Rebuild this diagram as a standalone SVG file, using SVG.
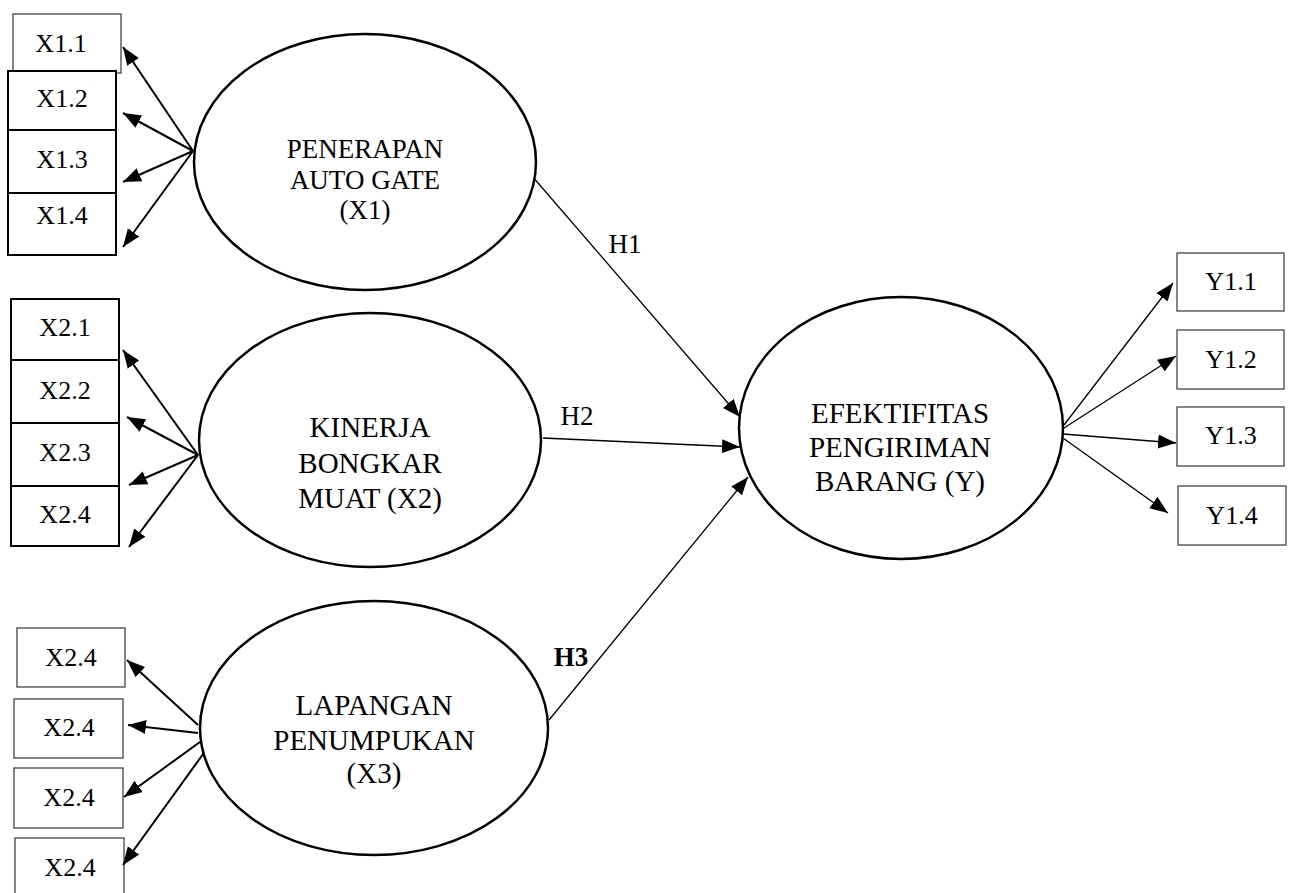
<svg xmlns="http://www.w3.org/2000/svg" width="1291" height="893" viewBox="0 0 1291 893">
<style>
text{font-family:"Liberation Serif","Times New Roman","DejaVu Serif",serif;font-size:26px;fill:#000;text-anchor:middle}
.m{font-size:27px}
.big{font-size:29px}
.lat{fill:#fff;stroke:#000;stroke-width:2.5}
.bx{fill:#fff;stroke:#000;stroke-width:2}
.bxg{fill:#fff;stroke:#444;stroke-width:1.3}
.c{stroke:#000;fill:none}
.t{stroke-width:2}
.n{stroke-width:1.3}
</style>
<defs>
<marker id="ah" markerUnits="userSpaceOnUse" markerWidth="20" markerHeight="16" viewBox="0 0 20 16" refX="18" refY="8" orient="auto">
<path d="M0,1 L18,8 L0,15 Z" fill="#000"/>
</marker>
</defs>
<rect width="1291" height="893" fill="#fff"/>

<g id="x1-indicators">
<rect class="bxg" x="13" y="14" width="108" height="59"/>
<text x="61" y="52">X1.1</text>
<rect class="bx" x="8" y="71" width="108" height="59"/>
<text x="62" y="107">X1.2</text>
<rect class="bx" x="8" y="130" width="108" height="63"/>
<text x="62" y="168">X1.3</text>
<rect class="bx" x="8" y="193" width="108" height="62"/>
<text x="62" y="224">X1.4</text>
</g>

<g id="x2-indicators">
<rect class="bx" x="11" y="299" width="108" height="61"/>
<text x="65" y="336">X2.1</text>
<rect class="bx" x="11" y="360" width="108" height="63"/>
<text x="65" y="399">X2.2</text>
<rect class="bx" x="11" y="423" width="108" height="63"/>
<text x="65" y="461">X2.3</text>
<rect class="bx" x="11" y="486" width="108" height="60"/>
<text x="65" y="523">X2.4</text>
</g>

<g id="x3-indicators">
<rect class="bxg" x="17" y="628" width="108" height="59"/>
<text x="71" y="666">X2.4</text>
<rect class="bxg" x="14" y="699" width="109" height="59"/>
<text x="69" y="736">X2.4</text>
<rect class="bxg" x="14" y="768" width="109" height="60"/>
<text x="69" y="806">X2.4</text>
<rect class="bxg" x="15" y="838" width="109" height="70"/>
<text x="70" y="876">X2.4</text>
</g>

<g id="y-indicators">
<rect class="bxg" x="1177" y="253" width="107" height="58"/>
<text x="1231" y="290">Y1.1</text>
<rect class="bxg" x="1177" y="330" width="107" height="59"/>
<text x="1231" y="368">Y1.2</text>
<rect class="bxg" x="1177" y="407" width="107" height="59"/>
<text x="1231" y="444">Y1.3</text>
<rect class="bxg" x="1178" y="486" width="108" height="59"/>
<text x="1232" y="524">Y1.4</text>
</g>

<g id="connectors">
<g class="c t">
<line x1="193" y1="151" x2="123" y2="47" marker-end="url(#ah)"/>
<line x1="193" y1="151" x2="123" y2="113" marker-end="url(#ah)"/>
<line x1="193" y1="151" x2="123" y2="182" marker-end="url(#ah)"/>
<line x1="193" y1="151" x2="123" y2="247" marker-end="url(#ah)"/>
<line x1="198" y1="455" x2="123" y2="350" marker-end="url(#ah)"/>
<line x1="198" y1="455" x2="127" y2="417" marker-end="url(#ah)"/>
<line x1="198" y1="455" x2="129" y2="485" marker-end="url(#ah)"/>
<line x1="198" y1="455" x2="129" y2="547" marker-end="url(#ah)"/>
<line x1="198" y1="725" x2="127" y2="660" marker-end="url(#ah)"/>
<line x1="198" y1="733" x2="128" y2="725" marker-end="url(#ah)"/>
<line x1="200" y1="742" x2="124" y2="797" marker-end="url(#ah)"/>
<line x1="206" y1="750" x2="123" y2="865" marker-end="url(#ah)"/>
</g>
<g class="c n">
<line x1="532" y1="176" x2="740" y2="417" marker-end="url(#ah)"/>
<line x1="543" y1="438" x2="740" y2="447" marker-end="url(#ah)"/>
<line x1="549" y1="720" x2="748" y2="477" marker-end="url(#ah)"/>
<line x1="1064" y1="425" x2="1173" y2="283" marker-end="url(#ah)"/>
<line x1="1064" y1="428" x2="1176" y2="356" marker-end="url(#ah)"/>
<line x1="1063" y1="434" x2="1176" y2="443" marker-end="url(#ah)"/>
<line x1="1063" y1="438" x2="1168" y2="513" marker-end="url(#ah)"/>
</g>
<text class="m" x="625" y="253">H1</text>
<text class="m" x="577" y="425">H2</text>
<text class="m" x="571" y="666" font-weight="bold">H3</text>
</g>

<g id="x1">
<ellipse class="lat" cx="365" cy="162" rx="171" ry="128"/>
<text class="m" x="365" y="158">PENERAPAN</text>
<text class="m" x="365" y="189">AUTO GATE</text>
<text class="m" x="365" y="219">(X1)</text>
</g>

<g id="x2">
<ellipse class="lat" cx="370" cy="440" rx="171" ry="127"/>
<text class="big" x="370" y="437">KINERJA</text>
<text class="big" x="370" y="473">BONGKAR</text>
<text class="big" x="370" y="508">MUAT (X2)</text>
</g>

<g id="x3">
<ellipse class="lat" cx="374" cy="728" rx="174" ry="127"/>
<text class="big" x="374" y="715">LAPANGAN</text>
<text class="big" x="374" y="750">PENUMPUKAN</text>
<text class="big" x="374" y="783">(X3)</text>
</g>

<g id="y">
<ellipse class="lat" cx="901" cy="428" rx="162" ry="131"/>
<text class="big" x="900" y="423">EFEKTIFITAS</text>
<text class="big" x="900" y="457">PENGIRIMAN</text>
<text class="big" x="900" y="491">BARANG (Y)</text>
</g>
</svg>
